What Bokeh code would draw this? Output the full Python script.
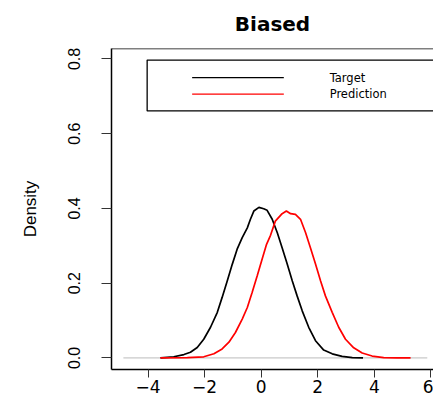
from bokeh.plotting import figure
from bokeh.models import Range1d, FixedTicker, Span
from bokeh.core.properties import value
from bokeh.embed import file_html
from bokeh.resources import INLINE

# Kernel density estimates of the two samples
target_x = [-3.56, -3.09, -2.73, -2.5, -2.26, -2.03, -1.79, -1.55, -1.38, -1.2,
            -1.02, -0.85, -0.67, -0.49, -0.38, -0.26, -0.08, 0.09, 0.21, 0.39,
            0.57, 0.74, 0.92, 1.1, 1.27, 1.45, 1.68, 1.92, 2.21, 2.51,
            2.86, 3.22, 3.6]
target_y = [0.0, 0.003, 0.009, 0.015, 0.028, 0.05, 0.082, 0.122, 0.162, 0.206,
            0.251, 0.291, 0.322, 0.348, 0.371, 0.393, 0.403, 0.399, 0.395, 0.371,
            0.335, 0.295, 0.251, 0.206, 0.166, 0.126, 0.082, 0.046, 0.021, 0.011,
            0.004, 0.001, 0.0]

pred_x = [-3.56, -2.61, -2.03, -1.67, -1.38, -1.14, -0.91, -0.67, -0.49, -0.32,
          -0.14, 0.04, 0.19, 0.33, 0.5, 0.74, 0.89, 1.04, 1.21, 1.39,
          1.57, 1.74, 1.92, 2.1, 2.27, 2.51, 2.74, 2.98, 3.27, 3.57,
          3.92, 4.33, 4.8, 5.28]
pred_y = [0.0, 0.001, 0.003, 0.011, 0.024, 0.042, 0.068, 0.104, 0.135, 0.175,
          0.22, 0.266, 0.304, 0.328, 0.366, 0.386, 0.393, 0.386, 0.384, 0.371,
          0.335, 0.295, 0.251, 0.206, 0.166, 0.122, 0.082, 0.05, 0.027, 0.013,
          0.005, 0.001, 0.0003, 0.0]

# horizontal zero reference across the sample range
zero_line_x = [-4.87, 5.87]
zero_line_y = [0.0, 0.0]

series_names = ["Target", "Prediction"]
series_colors = ["black", "red"]

x_ticks = [-4, -2, 0, 2, 4, 6]
x_tick_labels = ["\u22124", "\u22122", "0", "2", "4", "6"]
y_ticks = [0.0, 0.2, 0.4, 0.6, 0.8]
y_tick_labels = ["0.0", "0.2", "0.4", "0.6", "0.8"]

X_START, X_END = -5.29, 6.09
Y_START, Y_END = -0.031, 0.828

p = figure(width=433, height=399,
           x_range=Range1d(X_START, X_END), y_range=Range1d(Y_START, Y_END),
           output_backend="svg", toolbar_location=None, title="Biased",
           min_border_left=111, min_border_right=0,
           min_border_top=47, min_border_bottom=30)
p.background_fill_color = "white"
p.border_fill_color = "white"
p.outline_line_color = None
p.grid.visible = False

p.title.align = "center"
p.title.vertical_align = "top"
p.title.text_font = "DejaVu Sans"
p.title.text_font_style = "bold"
p.title.text_font_size = "20px"
p.title.text_color = "black"
p.title.standoff = 22

# x axis
xa = p.xaxis[0]
xa.ticker = FixedTicker(ticks=x_ticks)
xa.major_label_overrides = {t: l for t, l in zip(x_ticks, x_tick_labels)}
xa.minor_tick_line_color = None
xa.major_tick_in = 0
xa.major_tick_out = 8
xa.major_tick_line_color = "#333333"
xa.axis_line_color = "black"
xa.axis_line_width = 1.5
xa.major_label_text_font = "DejaVu Sans"
xa.major_label_text_font_size = "17px"
xa.major_label_text_color = "black"
xa.major_label_standoff = 2

# y axis
ya = p.yaxis[0]
ya.ticker = FixedTicker(ticks=y_ticks)
ya.major_label_overrides = {t: l for t, l in zip(y_ticks, y_tick_labels)}
ya.minor_tick_line_color = None
ya.major_tick_in = 0
ya.major_tick_out = 10
ya.major_tick_line_color = "#333333"
ya.axis_line_color = "black"
ya.axis_line_width = 1.5
ya.major_label_orientation = "vertical"
ya.major_label_text_font = "Liberation Sans"
ya.major_label_text_font_size = "16px"
ya.major_label_text_color = "black"
ya.major_label_standoff = 21
ya.axis_label = "Density"
ya.axis_label_text_font = "Liberation Sans"
ya.axis_label_text_font_size = "17px"
ya.axis_label_text_font_style = "normal"
ya.axis_label_text_color = "black"
ya.axis_label_standoff = 26

# top edge of the plot box
p.add_layout(Span(location=Y_END, dimension="width", line_color="black", line_width=1.5))

# density curves
p.line(zero_line_x, zero_line_y, line_color="#bbbbbb", line_width=1)
p.line(target_x, target_y, line_color=series_colors[0], line_width=1.7)
p.line(pred_x, pred_y, line_color=series_colors[1], line_width=1.7)

# legend box with sample lines and names
LEG_LEFT, LEG_RIGHT, LEG_TOP, LEG_BOTTOM = -4.03, 6.6, 0.797, 0.661
leg_rows = [0.750, 0.706]
p.quad(left=[LEG_LEFT], right=[LEG_RIGHT], top=[LEG_TOP], bottom=[LEG_BOTTOM],
       fill_color=None, line_color="black", line_width=1.3)
for row, color in zip(leg_rows, series_colors):
    p.line([-2.44, 0.80], [row, row], line_color=color, line_width=1.2)
p.text(x=[2.42, 2.42], y=leg_rows, text=series_names,
       text_font=value("DejaVu Sans"), text_font_size="11.5px",
       text_color="black", text_baseline="middle", text_align="left")

open("out.html", "w").write(file_html(p, INLINE))
